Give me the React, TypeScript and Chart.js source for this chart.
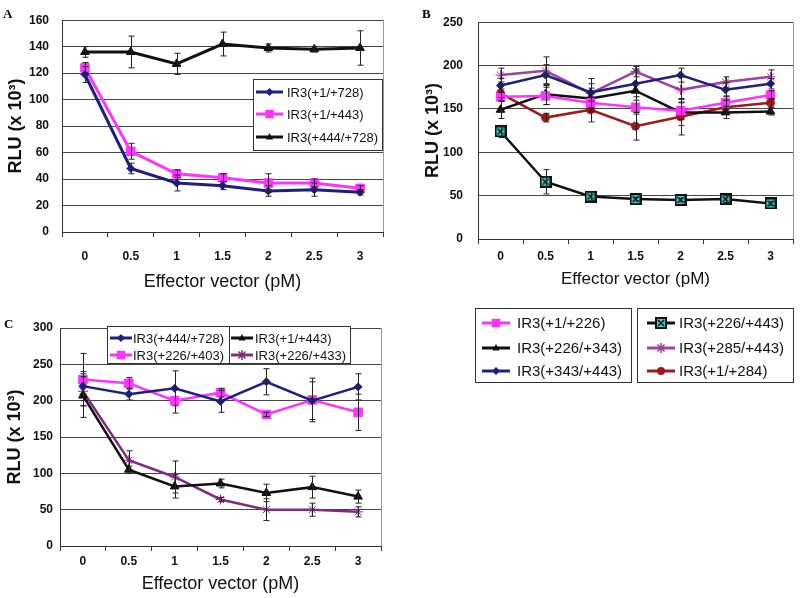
import React, { useEffect, useRef } from 'react';
import { Chart, registerables } from 'chart.js';

Chart.register(...registerables);
Chart.defaults.font.family = '"Liberation Sans", Arial, sans-serif';

const doses = ['0', '0.5', '1', '1.5', '2', '2.5', '3'];

// ---------- Panel A ----------
const aTickMax = 160;
const aTickStep = 20;
const aIR3_1_728 = [119, 48, 37, 35, 31, 32, 30];
const aIR3_1_728_err = [6, 4, 6, 3, 4, 5, 2];
const aIR3_1_443 = [124, 61, 44, 41, 37, 37, 33];
const aIR3_1_443_err = [4, 6, 3, 3, 7, 3, 2];
const aIR3_444_728 = [136, 136, 127, 142, 139, 138, 139];
const aIR3_444_728_err = [4, 12, 8, 9, 3, 2, 13];

// ---------- Panel B ----------
const bTickMax = 250;
const bTickStep = 50;
const bIR3_1_226 = [164, 165, 157, 152, 148, 157, 166];
const bIR3_1_226_err = [5, 10, 10, 8, 10, 8, 5];
const bIR3_226_343 = [149, 167, 162, 171, 146, 146, 147];
const bIR3_226_343_err = [10, 12, 12, 25, 15, 7, 4];
const bIR3_343_443 = [177, 189, 169, 179, 189, 172, 179];
const bIR3_343_443_err = [8, 12, 10, 15, 8, 8, 6];
const bIR3_226_443 = [124, 66, 49, 46, 45, 46, 41];
const bIR3_226_443_err = [7, 14, 5, 2, 2, 4, 2];
const bIR3_285_443 = [189, 194, 168, 193, 172, 181, 187];
const bIR3_285_443_err = [8, 16, 17, 6, 15, 6, 8];
const bIR3_1_284 = [168, 140, 149, 130, 141, 152, 157];
const bIR3_1_284_err = [5, 5, 14, 16, 21, 8, 5];

// ---------- Panel C ----------
const cTickMax = 300;
const cTickStep = 50;
const cIR3_444_728 = [220, 209, 217, 199, 226, 200, 219];
const cIR3_444_728_err = [20, 8, 24, 15, 18, 26, 18];
const cIR3_226_403 = [229, 224, 200, 211, 181, 201, 184];
const cIR3_226_403_err = [36, 8, 17, 6, 3, 30, 25];
const cIR3_1_443 = [207, 105, 82, 86, 73, 81, 68];
const cIR3_1_443_err = [30, 5, 16, 6, 12, 15, 9];
const cIR3_226_433 = [213, 118, 95, 64, 50, 50, 47];
const cIR3_226_433_err = [20, 13, 22, 3, 15, 9, 7];

const NAVY = '#1f1f80';
const MAGENTA = '#ff33ff';
const BLACK = '#111111';
const PURPLE_B = '#a040a0';
const PURPLE_C = '#7e2e7e';
const DARKRED = '#a01818';
const TEAL = '#3fd0c6';

function makeXBox(size: number) {
  const c = document.createElement('canvas');
  c.width = size;
  c.height = size;
  const g = c.getContext('2d')!;
  g.fillStyle = TEAL;
  g.fillRect(0, 0, size, size);
  g.strokeStyle = '#111';
  g.lineWidth = 2;
  g.strokeRect(1, 1, size - 2, size - 2);
  g.lineWidth = 1.5;
  g.beginPath();
  g.moveTo(3, 3);
  g.lineTo(size - 3, size - 3);
  g.moveTo(size - 3, 3);
  g.lineTo(3, size - 3);
  g.stroke();
  return c;
}

function drawMarker(ctx: CanvasRenderingContext2D, style: string, x: number, y: number, r: number, color: string, xbox?: HTMLCanvasElement) {
  ctx.save();
  ctx.fillStyle = color;
  ctx.strokeStyle = color;
  ctx.lineWidth = 1.5;
  ctx.beginPath();
  if (style === 'rect') {
    const s = r * Math.SQRT1_2;
    ctx.rect(x - s, y - s, 2 * s, 2 * s);
    ctx.fill();
  } else if (style === 'rectRot') {
    ctx.moveTo(x, y - r);
    ctx.lineTo(x + r, y);
    ctx.lineTo(x, y + r);
    ctx.lineTo(x - r, y);
    ctx.closePath();
    ctx.fill();
  } else if (style === 'triangle') {
    ctx.moveTo(x, y - r);
    ctx.lineTo(x + r * 0.9, y + r * 0.6);
    ctx.lineTo(x - r * 0.9, y + r * 0.6);
    ctx.closePath();
    ctx.fill();
  } else if (style === 'circle') {
    ctx.arc(x, y, r, 0, Math.PI * 2);
    ctx.fill();
  } else if (style === 'star') {
    for (let k = 0; k < 4; k++) {
      const a = (k * Math.PI) / 4;
      ctx.moveTo(x - Math.cos(a) * r, y - Math.sin(a) * r);
      ctx.lineTo(x + Math.cos(a) * r, y + Math.sin(a) * r);
    }
    ctx.stroke();
  } else if (style === 'xbox' && xbox) {
    ctx.drawImage(xbox, x - xbox.width / 2, y - xbox.height / 2);
  }
  ctx.restore();
}

const errorBarPlugin = {
  id: 'errorBars',
  afterDatasetsDraw(chart: any) {
    const ctx = chart.ctx as CanvasRenderingContext2D;
    const ys = chart.scales.y;
    chart.data.datasets.forEach((ds: any, i: number) => {
      const errs: number[] | undefined = ds.errors;
      if (!errs) return;
      const meta = chart.getDatasetMeta(i);
      ctx.save();
      ctx.strokeStyle = '#222';
      ctx.lineWidth = 1;
      meta.data.forEach((pt: any, j: number) => {
        const v = ds.data[j];
        const e = errs[j];
        if (!e) return;
        const x = Math.round(pt.x) + 0.5;
        const y1 = ys.getPixelForValue(v + e);
        const y2 = ys.getPixelForValue(v - e);
        ctx.beginPath();
        ctx.moveTo(x, y1);
        ctx.lineTo(x, y2);
        ctx.moveTo(x - 3, y1);
        ctx.lineTo(x + 3, y1);
        ctx.moveTo(x - 3, y2);
        ctx.lineTo(x + 3, y2);
        ctx.stroke();
      });
      ctx.restore();
    });
  },
};

type LegendItem = { label: string; color: string; style: string; r: number; x: number; y: number; len: number; tx: number };
type LegendBox = { x: number; y: number; w: number; h: number; dividers?: number[] };

function makeDecorPlugin(letter: string, lx: number, ly: number, boxes: LegendBox[], items: LegendItem[], fontSize: number, xbox: HTMLCanvasElement) {
  return {
    id: 'decor',
    afterDraw(chart: any) {
      const ctx = chart.ctx as CanvasRenderingContext2D;
      const ca = chart.chartArea;
      ctx.save();
      // right border of plot area
      ctx.strokeStyle = '#9a9a9a';
      ctx.lineWidth = 1;
      ctx.beginPath();
      ctx.moveTo(Math.round(ca.right) + 0.5, ca.top);
      ctx.lineTo(Math.round(ca.right) + 0.5, ca.bottom);
      ctx.stroke();
      // panel letter
      ctx.fillStyle = '#000';
      ctx.font = 'bold 13px "Liberation Serif", "Times New Roman", serif';
      ctx.textBaseline = 'alphabetic';
      ctx.textAlign = 'left';
      ctx.fillText(letter, lx, ly);
      // legend boxes
      boxes.forEach((b) => {
        ctx.fillStyle = '#fff';
        ctx.fillRect(b.x, b.y, b.w, b.h);
        ctx.strokeStyle = '#333';
        ctx.lineWidth = 1;
        ctx.strokeRect(b.x + 0.5, b.y + 0.5, b.w, b.h);
        (b.dividers || []).forEach((dx) => {
          ctx.beginPath();
          ctx.moveTo(dx + 0.5, b.y);
          ctx.lineTo(dx + 0.5, b.y + b.h);
          ctx.stroke();
        });
      });
      items.forEach((it) => {
        ctx.strokeStyle = it.color;
        ctx.lineWidth = 3;
        ctx.beginPath();
        ctx.moveTo(it.x, it.y);
        ctx.lineTo(it.x + it.len, it.y);
        ctx.stroke();
        drawMarker(ctx, it.style, it.x + it.len / 2, it.y, it.r, it.color, xbox);
        ctx.fillStyle = '#111';
        ctx.font = `${fontSize}px "Liberation Sans", Arial, sans-serif`;
        ctx.textBaseline = 'middle';
        ctx.textAlign = 'left';
        ctx.fillText(it.label, it.tx, it.y + 1);
      });
      ctx.restore();
    },
  };
}

type PanelSpec = {
  left: number; top: number; w: number; h: number;
  padding: { top: number; right: number; left: number; bottom: number };
  yWidth: number; xHeight: number; yMax: number; yStep: number;
  yTickPad: number; xTickPad: number; xTitlePad: number; yTitlePad: number; titleSize: number;
  datasets: any[];
  decor: any;
};

function makeConfig(p: PanelSpec): any {
  return {
    type: 'line',
    data: { labels: doses, datasets: p.datasets },
    options: {
      animation: false,
      responsive: false,
      maintainAspectRatio: false,
      layout: { padding: p.padding },
      plugins: { legend: { display: false }, tooltip: { enabled: false } },
      scales: {
        x: {
          type: 'category',
          offset: true,
          grid: { display: true, drawOnChartArea: false, drawTicks: true, tickLength: 5, offset: true, color: '#333' },
          border: { display: true, color: '#333', width: 1 },
          ticks: { color: '#111', padding: p.xTickPad, font: { size: 12, weight: 'bold' }, maxRotation: 0 },
          title: { display: true, text: 'Effector vector (pM)', color: '#111', font: { size: p.titleSize }, padding: { top: 0, bottom: p.xTitlePad } },
          afterFit: (s: any) => { s.height = p.xHeight; },
        },
        y: {
          min: 0,
          max: p.yMax,
          ticks: { stepSize: p.yStep, color: '#111', padding: p.yTickPad, font: { size: 12, weight: 'bold' } },
          grid: { color: '#454545', drawTicks: false, lineWidth: 1 },
          border: { display: true, color: '#333', width: 1 },
          title: { display: true, text: 'RLU (x 10³)', color: '#111', font: { size: 18, weight: 'bold' }, padding: { top: p.yTitlePad, bottom: 0 } },
          afterFit: (s: any) => { s.width = p.yWidth; },
        },
      },
    },
    plugins: [errorBarPlugin, p.decor],
  };
}

function ds(label: string, data: number[], errors: number[], color: string, pointStyle: any, r: number, bw = 3) {
  return {
    label,
    data,
    errors,
    borderColor: color,
    backgroundColor: color,
    borderWidth: bw,
    pointStyle,
    pointRadius: r,
    pointBorderWidth: 1,
    pointBackgroundColor: color,
    pointBorderColor: color,
    tension: 0,
  };
}

function Panel({ spec }: { spec: () => PanelSpec }) {
  const ref = useRef<HTMLCanvasElement>(null);
  const s = spec();
  useEffect(() => {
    const chart = new Chart(ref.current!, makeConfig(spec()));
    return () => chart.destroy();
  }, []);
  return (
    <canvas
      ref={ref}
      width={s.w}
      height={s.h}
      style={{ position: 'absolute', left: s.left, top: s.top, width: s.w, height: s.h }}
    />
  );
}

function specA(): PanelSpec {
  const xbox = makeXBox(12);
  const items: LegendItem[] = [
    { label: 'IR3(+1/+728)', color: NAVY, style: 'rectRot', r: 4, x: 256, y: 92, len: 27, tx: 287 },
    { label: 'IR3(+1/+443)', color: MAGENTA, style: 'rect', r: 6, x: 256, y: 114, len: 27, tx: 287 },
    { label: 'IR3(+444/+728)', color: BLACK, style: 'triangle', r: 4, x: 256, y: 137, len: 27, tx: 287 },
  ];
  return {
    left: 0, top: 0, w: 400, h: 300,
    padding: { top: 15, right: 17, left: 0, bottom: 0 },
    yWidth: 62, xHeight: 68, yMax: aTickMax, yStep: aTickStep,
    yTickPad: 13, xTickPad: 12, xTitlePad: 7, yTitlePad: 5, titleSize: 18,
    datasets: [
      ds('IR3(+1/+728)', aIR3_1_728, aIR3_1_728_err, NAVY, 'rectRot', 4),
      ds('IR3(+1/+443)', aIR3_1_443, aIR3_1_443_err, MAGENTA, 'rect', 6),
      ds('IR3(+444/+728)', aIR3_444_728, aIR3_444_728_err, BLACK, 'triangle', 5),
    ],
    decor: makeDecorPlugin('A', 3, 18, [{ x: 253, y: 79, w: 129, h: 71 }], items, 13, xbox),
  };
}

function specB(): PanelSpec {
  const xbox = makeXBox(12);
  const rows = [323, 348, 371];
  const items: LegendItem[] = [
    { label: 'IR3(+1/+226)', color: MAGENTA, style: 'rect', r: 6, x: 82, y: rows[0], len: 28, tx: 117 },
    { label: 'IR3(+226/+343)', color: BLACK, style: 'triangle', r: 4, x: 82, y: rows[1], len: 28, tx: 117 },
    { label: 'IR3(+343/+443)', color: NAVY, style: 'rectRot', r: 4, x: 82, y: rows[2], len: 28, tx: 117 },
    { label: 'IR3(+226/+443)', color: BLACK, style: 'xbox', r: 6, x: 247, y: rows[0], len: 28, tx: 279 },
    { label: 'IR3(+285/+443)', color: PURPLE_B, style: 'star', r: 5, x: 247, y: rows[1], len: 28, tx: 279 },
    { label: 'IR3(+1/+284)', color: DARKRED, style: 'circle', r: 4, x: 247, y: rows[2], len: 28, tx: 279 },
  ];
  return {
    left: 400, top: 0, w: 400, h: 400,
    padding: { top: 15, right: 3, left: 0, bottom: 110 },
    yWidth: 78, xHeight: 51, yMax: bTickMax, yStep: bTickStep,
    yTickPad: 15, xTickPad: 5, xTitlePad: 0, yTitlePad: 22, titleSize: 17,
    datasets: [
      ds('IR3(+1/+226)', bIR3_1_226, bIR3_1_226_err, MAGENTA, 'rect', 6, 2.5),
      ds('IR3(+226/+343)', bIR3_226_343, bIR3_226_343_err, BLACK, 'triangle', 5, 2.5),
      ds('IR3(+343/+443)', bIR3_343_443, bIR3_343_443_err, NAVY, 'rectRot', 4, 2.5),
      ds('IR3(+226/+443)', bIR3_226_443, bIR3_226_443_err, BLACK, xbox, 6, 2.5),
      ds('IR3(+285/+443)', bIR3_285_443, bIR3_285_443_err, PURPLE_B, 'star', 5, 2.5),
      ds('IR3(+1/+284)', bIR3_1_284, bIR3_1_284_err, DARKRED, 'circle', 4, 2.5),
    ],
    decor: makeDecorPlugin('B', 22, 18, [
      { x: 75, y: 308, w: 156, h: 74 },
      { x: 237, y: 308, w: 156, h: 74 },
    ], items, 15, xbox),
  };
}

function specC(): PanelSpec {
  const xbox = makeXBox(12);
  const items: LegendItem[] = [
    { label: 'IR3(+444/+728)', color: NAVY, style: 'rectRot', r: 4, x: 110, y: 38, len: 22, tx: 133 },
    { label: 'IR3(+226/+403)', color: MAGENTA, style: 'rect', r: 6, x: 110, y: 55, len: 22, tx: 133 },
    { label: 'IR3(+1/+443)', color: BLACK, style: 'triangle', r: 4, x: 231, y: 38, len: 22, tx: 255 },
    { label: 'IR3(+226/+433)', color: PURPLE_C, style: 'star', r: 5, x: 231, y: 55, len: 22, tx: 255 },
  ];
  return {
    left: 0, top: 300, w: 400, h: 298,
    padding: { top: 28, right: 19, left: 0, bottom: 0 },
    yWidth: 60, xHeight: 52, yMax: cTickMax, yStep: cTickStep,
    yTickPad: 7, xTickPad: 3, xTitlePad: 3, yTitlePad: 4, titleSize: 18,
    datasets: [
      ds('IR3(+444/+728)', cIR3_444_728, cIR3_444_728_err, NAVY, 'rectRot', 4, 2.5),
      ds('IR3(+226/+403)', cIR3_226_403, cIR3_226_403_err, MAGENTA, 'rect', 6, 2.5),
      ds('IR3(+1/+443)', cIR3_1_443, cIR3_1_443_err, BLACK, 'triangle', 5, 2.5),
      ds('IR3(+226/+433)', cIR3_226_433, cIR3_226_433_err, PURPLE_C, 'star', 5, 2.5),
    ],
    decor: makeDecorPlugin('C', 4, 28, [{ x: 107, y: 26, w: 243, h: 37, dividers: [229] }], items, 13, xbox),
  };
}

export default function App() {
  return (
    <div style={{ position: 'absolute', left: 0, top: 0, width: 800, height: 598, background: '#fff', overflow: 'hidden' }}>
      <Panel spec={specA} />
      <Panel spec={specB} />
      <Panel spec={specC} />
    </div>
  );
}
